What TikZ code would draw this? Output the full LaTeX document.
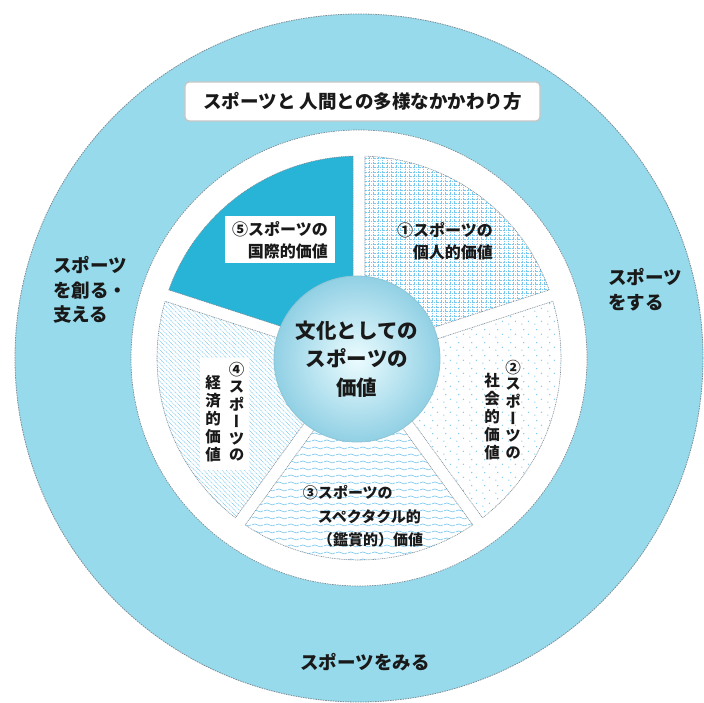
\documentclass[tikz,border=0pt]{standalone}
\usepackage{fontspec}
\newfontfamily\jp{Noto Sans CJK JP}[BoldFont={* Black}]
\newfontfamily\jpv{Noto Sans CJK JP}[BoldFont={* Black},RawFeature=+vert]
\usetikzlibrary{patterns}
\definecolor{outerblue}{RGB}{150,218,235}
\definecolor{deepblue}{RGB}{40,180,215}
\definecolor{patblue}{RGB}{120,200,240}
\definecolor{edgegray}{RGB}{125,140,150}
\definecolor{txt}{RGB}{25,25,25}
\definecolor{rimblue}{RGB}{145,208,228}
\definecolor{coreblue}{RGB}{235,252,255}

\pgfdeclarepatternformonly{mygrid}{\pgfqpoint{-1pt}{-1pt}}{\pgfqpoint{5.5pt}{5.5pt}}{\pgfqpoint{4.5pt}{4.5pt}}{%
  \pgfsetlinewidth{0.55pt}%
  \pgfpathmoveto{\pgfqpoint{0pt}{0pt}}\pgfpathlineto{\pgfqpoint{0pt}{4.6pt}}%
  \pgfpathmoveto{\pgfqpoint{0pt}{0pt}}\pgfpathlineto{\pgfqpoint{4.6pt}{0pt}}%
  \pgfusepath{stroke}}
\pgfdeclarepatternformonly{mydots}{\pgfqpoint{0pt}{0pt}}{\pgfqpoint{13pt}{13pt}}{\pgfqpoint{13pt}{13pt}}{%
  \pgfpathcircle{\pgfqpoint{2pt}{2pt}}{0.75pt}%
  \pgfpathcircle{\pgfqpoint{9pt}{5pt}}{0.75pt}%
  \pgfpathcircle{\pgfqpoint{4pt}{10pt}}{0.75pt}%
  \pgfusepath{fill}}
\pgfdeclarepatternformonly{mywaves}{\pgfqpoint{0pt}{0pt}}{\pgfqpoint{12pt}{7pt}}{\pgfqpoint{12pt}{7pt}}{%
  \pgfsetlinewidth{0.7pt}%
  \pgfpathmoveto{\pgfqpoint{0pt}{3.5pt}}%
  \pgfpathcurveto{\pgfqpoint{2pt}{5pt}}{\pgfqpoint{4pt}{5pt}}{\pgfqpoint{6pt}{3.5pt}}%
  \pgfpathcurveto{\pgfqpoint{8pt}{2pt}}{\pgfqpoint{10pt}{2pt}}{\pgfqpoint{12pt}{3.5pt}}%
  \pgfusepath{stroke}}
\pgfdeclarepatternformonly{mydiag}{\pgfqpoint{-1pt}{-1pt}}{\pgfqpoint{5.5pt}{5.5pt}}{\pgfqpoint{4.5pt}{4.5pt}}{%
  \pgfsetlinewidth{0.5pt}%
  \pgfpathmoveto{\pgfqpoint{0pt}{4.5pt}}\pgfpathlineto{\pgfqpoint{4.6pt}{-0.1pt}}%
  \pgfusepath{stroke}}

\newcommand\sectorpath[3]{%
  \path[#1] ({#2+1.7}:202pt) arc[start angle={#2+1.7}, end angle={#3-1.7}, radius=202pt]
    -- ({#3-4.3}:80pt) arc[start angle={#3-4.3}, end angle={#2+4.3}, radius=80pt] -- cycle;}
\newcommand\vcolumn[1]{\begin{tabular}[b]{@{}c@{}}#1\end{tabular}}

\begin{document}
\begin{tikzpicture}[x=1pt,y=1pt,
  segline/.style={draw=edgegray, line width=0.6pt, dash pattern=on 1pt off 0.8pt},
  sidelabel/.style={font=\jp\bfseries\fontsize{18.5}{24.5}\selectfont, text=txt, align=left, inner sep=0pt},
  segtext/.style={font=\jp\bfseries\fontsize{16}{22}\selectfont, text=txt, inner sep=0pt},
  vertext/.style={font=\jpv\bfseries\fontsize{15.5}{16}\selectfont, text=txt, inner sep=0pt}]
\useasboundingbox (-359,-345) rectangle (345,358);
\fill[white] (-359,-345) rectangle (345,358);
\draw[fill=outerblue, draw=edgegray, line width=0.8pt, dash pattern=on 1.5pt off 1pt] (0,0) circle[radius=344pt];
\draw[fill=white, draw=edgegray, line width=0.7pt, dash pattern=on 1.5pt off 1pt] (0,0) circle[radius=228pt];

% segments
\sectorpath{segline, preaction={fill=white}, pattern=mygrid, pattern color=patblue}{18}{90}
\sectorpath{segline, preaction={fill=white}, pattern=mydots, pattern color=patblue}{-54}{18}
\sectorpath{segline, preaction={fill=white}, pattern=mywaves, pattern color=patblue}{-126}{-54}
\sectorpath{segline, preaction={fill=white}, pattern=mydiag, pattern color=patblue}{162}{234}
\sectorpath{segline, fill=deepblue}{90}{162}

% centre
\node[circle, minimum size=166pt, inner sep=0pt, inner color=coreblue, outer color=rimblue,
      draw=rimblue!85!gray, line width=0.8pt] (core) at (-2,-1) {};
\node[font=\jp\bfseries\fontsize{20.5}{28.5}\selectfont, text=txt, align=center, inner sep=0pt]
  (coretext) at (core.center) {文化としての\\スポーツの\\価値};

% title
\node[draw=gray!45, line width=1.4pt, fill=white, rounded corners=4pt, minimum width=355pt,
      minimum height=39pt, inner sep=0pt, font=\jp\bfseries\fontsize{18.5}{22}\selectfont, text=txt]
  (title) at (3.5,256.5) {スポーツと 人間との多様なかかわり方};

% segment texts
\node[segtext, align=right, fill=white, minimum width=110pt, minimum height=47pt]
  (v5) at (-79,118) {⑤スポーツの\\国際的価値};
\node[segtext, align=right] (v1) at (86,117) {①スポーツの\\個人的価値};
\node[vertext] (v2) at (143.5,-53.5)
  {\vcolumn{社\\会\\的\\価\\値}\hspace{5.5pt}\vcolumn{②\\ス\\ポ\\ー\\ツ\\の}};
\node[vertext, fill=white, inner xsep=5pt, inner ysep=4pt] (v4) at (-134,-56)
  {\vcolumn{経\\済\\的\\価\\値}\hspace{8pt}\vcolumn{④\\ス\\ポ\\ー\\ツ\\の}};
\node[segtext, align=left, font=\jp\bfseries\fontsize{15}{23.5}\selectfont] (v3) at (11.5,-158.5)
  {\llap{③}スポーツの\\スペクタクル的\\（鑑賞的）価値};

% outer labels
\node[sidelabel, anchor=west] (make) at (-306,68) {スポーツ\\を創る・\\支える};
\node[sidelabel, anchor=west] (doit) at (249,68.5) {スポーツ\\をする};
\node[sidelabel] (watch) at (6,-304) {スポーツをみる};
\end{tikzpicture}
\end{document}
